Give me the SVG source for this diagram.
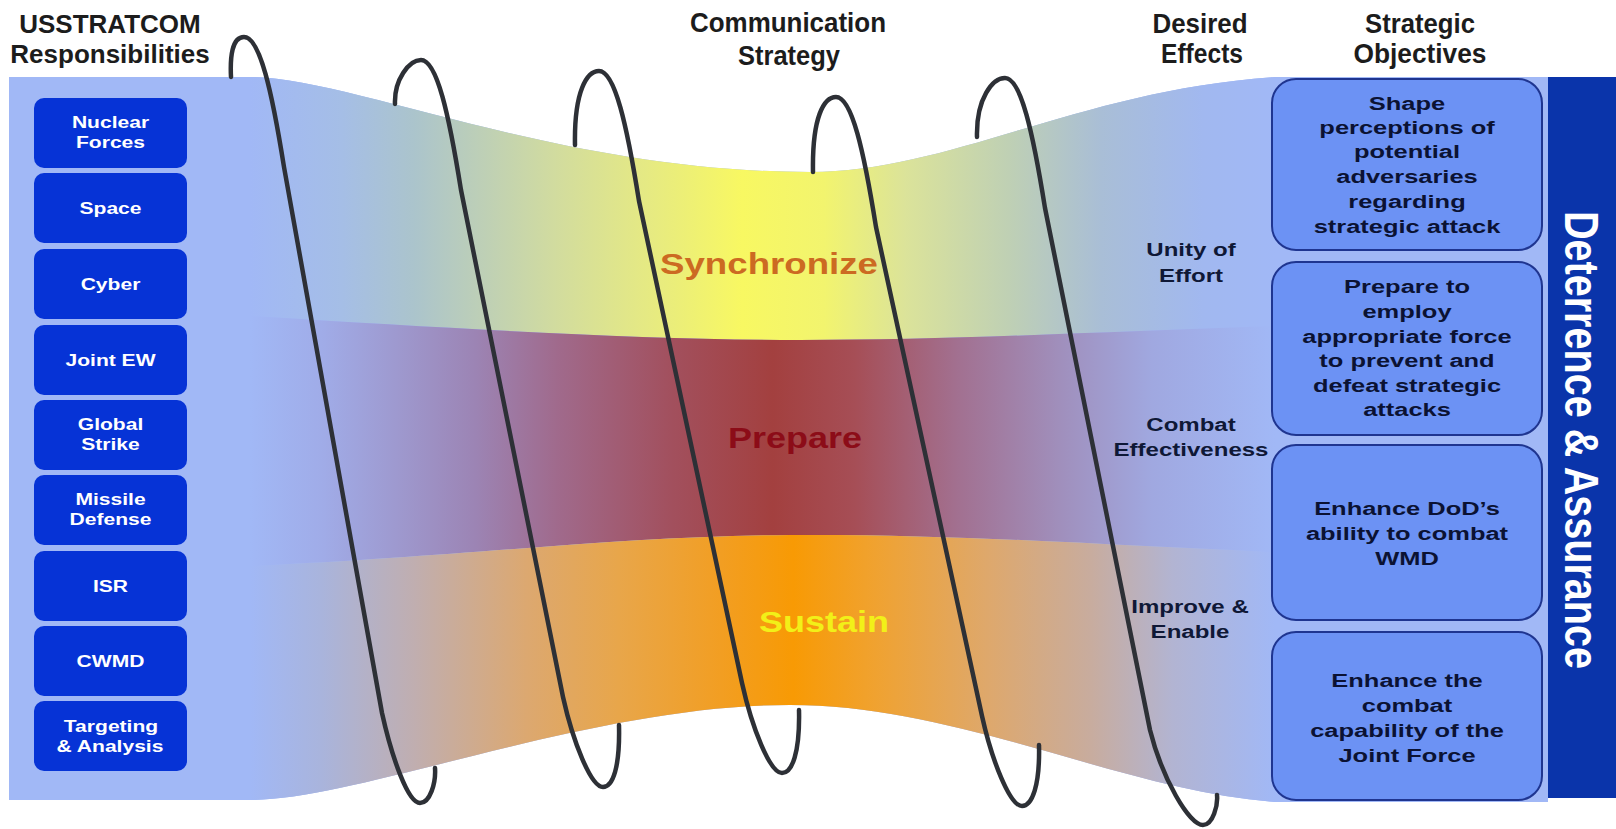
<svg xmlns="http://www.w3.org/2000/svg" width="1616" height="829" viewBox="0 0 1616 829">
<defs>
<style>
.coil{fill:none;stroke:#2d3036;stroke-width:4.5;stroke-linecap:round;stroke-linejoin:round}
.lbox{fill:#0633d6}
.ltxt{font-family:"Liberation Sans",Arial,sans-serif;font-weight:bold;font-size:17px;fill:#ffffff;text-anchor:middle}
.rbox{fill:#6c92f4;stroke:#1f3590;stroke-width:2}
.rtxt{font-family:"Liberation Sans",Arial,sans-serif;font-weight:bold;font-size:19px;fill:#0b1233;text-anchor:middle}
.hdr{font-family:"Liberation Sans",Arial,sans-serif;font-weight:bold;font-size:26px;fill:#1c1c1c;text-anchor:middle}
.hdn{font-family:"Liberation Sans",Arial,sans-serif;font-weight:bold;font-size:28px;fill:#1c1c1c;text-anchor:middle}
.eff{font-family:"Liberation Sans",Arial,sans-serif;font-weight:bold;font-size:18.5px;fill:#0f1836;text-anchor:middle}
.band{font-family:"Liberation Sans",Arial,sans-serif;font-weight:bold;font-size:30px;text-anchor:middle}
.bar{font-family:"Liberation Sans",Arial,sans-serif;font-weight:bold;font-size:48px;fill:#ffffff;text-anchor:middle}
</style>
<linearGradient id="gS" gradientUnits="userSpaceOnUse" x1="250" y1="0" x2="1275" y2="0">
<stop offset="0" stop-color="#a1b8f6"/>
<stop offset="0.09" stop-color="#a5bee6"/>
<stop offset="0.16" stop-color="#abc4cc"/>
<stop offset="0.3" stop-color="#d2dc9e"/>
<stop offset="0.39" stop-color="#e6ea82"/>
<stop offset="0.48" stop-color="#f8f862"/>
<stop offset="0.56" stop-color="#f2f46e"/>
<stop offset="0.64" stop-color="#dbe39a"/>
<stop offset="0.74" stop-color="#bfd0b4"/>
<stop offset="0.83" stop-color="#a9bed6"/>
<stop offset="0.93" stop-color="#a1b8f0"/>
<stop offset="1" stop-color="#a1b8f6"/>
</linearGradient>
<linearGradient id="gP" gradientUnits="userSpaceOnUse" x1="250" y1="0" x2="1275" y2="0">
<stop offset="0" stop-color="#a1b8f6"/>
<stop offset="0.07" stop-color="#a0ace8"/>
<stop offset="0.14" stop-color="#9e9ad0"/>
<stop offset="0.22" stop-color="#9c84b4"/>
<stop offset="0.3" stop-color="#a06a8c"/>
<stop offset="0.41" stop-color="#a2505e"/>
<stop offset="0.51" stop-color="#a3403f"/>
<stop offset="0.59" stop-color="#a64e56"/>
<stop offset="0.69" stop-color="#a27090"/>
<stop offset="0.79" stop-color="#a08fbc"/>
<stop offset="0.88" stop-color="#a0a8e0"/>
<stop offset="1" stop-color="#a1b8f6"/>
</linearGradient>
<linearGradient id="gU" gradientUnits="userSpaceOnUse" x1="250" y1="0" x2="1275" y2="0">
<stop offset="0" stop-color="#a1b8f6"/>
<stop offset="0.07" stop-color="#a9b4dc"/>
<stop offset="0.16" stop-color="#c0aeb0"/>
<stop offset="0.27" stop-color="#dca870"/>
<stop offset="0.36" stop-color="#e8a64a"/>
<stop offset="0.46" stop-color="#f29e22"/>
<stop offset="0.53" stop-color="#f89a04"/>
<stop offset="0.61" stop-color="#f0a230"/>
<stop offset="0.72" stop-color="#dea86c"/>
<stop offset="0.82" stop-color="#c8ac9e"/>
<stop offset="0.9" stop-color="#b2b4d2"/>
<stop offset="1" stop-color="#a1b8f6"/>
</linearGradient>
</defs>
<rect x="0" y="0" width="1616" height="829" fill="#ffffff"/>

<g id="funnel">
<path d="M9,77 L250,77 C350,77 560,172 810,172 C950,172 1080,90 1275,77 L1548,77 L1548,802 L1275,802 C1120,790 960,705 790,705 C590,705 360,800 250,800 L9,800 Z" fill="#a1b8f6"/>
<path id="band-sync" d="M250,77 C350,77 560,172 810,172 C950,172 1080,90 1275,77 L1275,326 C1100,332 950,340 800,340 C650,340 480,330 250,316 Z" fill="url(#gS)"/>
<path id="band-prep" d="M250,316 C480,330 650,340 800,340 C950,340 1100,332 1275,326 L1275,552 C1100,545 960,534 790,535 C620,536 470,556 250,566 Z" fill="url(#gP)"/>
<path id="band-sust" d="M250,566 C470,556 620,536 790,535 C960,534 1100,545 1275,552 L1275,802 C1120,790 960,705 790,705 C590,705 360,800 250,800 Z" fill="url(#gU)"/>
</g>

<g id="coils">
<path class="coil" d="M231,77 C230,57 232,37 244,37 C260,37 272,92 284,167 L382,713 C392,758 408,803 420,803 C430,803 436,783 435,768"/>
<path class="coil" d="M395,104 C394,80 409,60 421,60 C437,60 449,115 461,190 L563,697 C573,742 591,787 603,787 C613,787 620,767 619,725"/>
<path class="coil" d="M575,145 C574,91 587,71 599,71 C615,71 627,126 639,201 L742,683 C752,728 770,773 782,773 C792,773 800,753 799,710"/>
<path class="coil" d="M813,172 C812,117 824,97 836,97 C852,97 864,152 876,227 L982,716 C992,761 1010,806 1022,806 C1032,806 1040,786 1039,745"/>
<path class="coil" d="M977,137 C976,98 993,78 1005,78 C1021,78 1033,133 1045,208 L1150,730 C1162,778 1189,825 1203,825 C1213,825 1218,805 1217,795"/>
</g>

<g id="headers">
<text class="hdr" x="110" y="33">USSTRATCOM</text>
<text class="hdr" x="110" y="63">Responsibilities</text>
<text class="hdn" x="788" y="32" textLength="196" lengthAdjust="spacingAndGlyphs">Communication</text>
<text class="hdn" x="789" y="65" textLength="102" lengthAdjust="spacingAndGlyphs">Strategy</text>
<text class="hdn" x="1200" y="33" textLength="95" lengthAdjust="spacingAndGlyphs">Desired</text>
<text class="hdn" x="1202" y="63" textLength="82" lengthAdjust="spacingAndGlyphs">Effects</text>
<text class="hdn" x="1420" y="33" textLength="110" lengthAdjust="spacingAndGlyphs">Strategic</text>
<text class="hdn" x="1420" y="63" textLength="133" lengthAdjust="spacingAndGlyphs">Objectives</text>
</g>

<g id="band-labels">
<text class="band" x="769" y="274" fill="#cc6a22" textLength="218" lengthAdjust="spacingAndGlyphs">Synchronize</text>
<text class="band" x="795" y="448" fill="#8c0c18" textLength="134" lengthAdjust="spacingAndGlyphs">Prepare</text>
<text class="band" x="824" y="632" fill="#f2f018" textLength="130" lengthAdjust="spacingAndGlyphs">Sustain</text>
</g>

<g id="resp-nuclear"><rect class="lbox" x="34" y="98" width="153" height="70" rx="10"/>
<text class="ltxt" transform="matrix(1.24 0 0 1 110.5 128)">Nuclear</text>
<text class="ltxt" transform="matrix(1.24 0 0 1 110.5 148)">Forces</text></g>
<g id="resp-space"><rect class="lbox" x="34" y="173" width="153" height="70" rx="10"/>
<text class="ltxt" transform="matrix(1.24 0 0 1 110.5 214)">Space</text></g>
<g id="resp-cyber"><rect class="lbox" x="34" y="249" width="153" height="70" rx="10"/>
<text class="ltxt" transform="matrix(1.24 0 0 1 110.5 290)">Cyber</text></g>
<g id="resp-jointew"><rect class="lbox" x="34" y="325" width="153" height="70" rx="10"/>
<text class="ltxt" transform="matrix(1.24 0 0 1 110.5 366)">Joint EW</text></g>
<g id="resp-globalstrike"><rect class="lbox" x="34" y="400" width="153" height="70" rx="10"/>
<text class="ltxt" transform="matrix(1.24 0 0 1 110.5 430)">Global</text>
<text class="ltxt" transform="matrix(1.24 0 0 1 110.5 450)">Strike</text></g>
<g id="resp-missiledefense"><rect class="lbox" x="34" y="475" width="153" height="70" rx="10"/>
<text class="ltxt" transform="matrix(1.24 0 0 1 110.5 505)">Missile</text>
<text class="ltxt" transform="matrix(1.24 0 0 1 110.5 525)">Defense</text></g>
<g id="resp-isr"><rect class="lbox" x="34" y="551" width="153" height="70" rx="10"/>
<text class="ltxt" transform="matrix(1.24 0 0 1 110.5 592)">ISR</text></g>
<g id="resp-cwmd"><rect class="lbox" x="34" y="626" width="153" height="70" rx="10"/>
<text class="ltxt" transform="matrix(1.24 0 0 1 110.5 667)">CWMD</text></g>
<g id="resp-targeting"><rect class="lbox" x="34" y="701" width="153" height="70" rx="10"/>
<text class="ltxt" transform="matrix(1.24 0 0 1 111 732)">Targeting</text>
<text class="ltxt" transform="matrix(1.24 0 0 1 110 752)">&amp; Analysis</text></g>

<g id="effect-unity">
<text class="eff" transform="matrix(1.3 0 0 1 1191 256)">Unity of</text>
<text class="eff" transform="matrix(1.3 0 0 1 1191 282)">Effort</text></g>
<g id="effect-combat">
<text class="eff" transform="matrix(1.3 0 0 1 1191 431)">Combat</text>
<text class="eff" transform="matrix(1.3 0 0 1 1191 456)">Effectiveness</text></g>
<g id="effect-improve">
<text class="eff" transform="matrix(1.3 0 0 1 1190 613)">Improve &amp;</text>
<text class="eff" transform="matrix(1.3 0 0 1 1190 638)">Enable</text></g>

<g id="obj-shape"><rect class="rbox" x="1272" y="79" width="270" height="171" rx="24"/>
<text class="rtxt" transform="matrix(1.34 0 0 1 1407 110)">Shape</text>
<text class="rtxt" transform="matrix(1.34 0 0 1 1407 134)">perceptions of</text>
<text class="rtxt" transform="matrix(1.34 0 0 1 1407 158)">potential</text>
<text class="rtxt" transform="matrix(1.34 0 0 1 1407 183)">adversaries</text>
<text class="rtxt" transform="matrix(1.34 0 0 1 1407 208)">regarding</text>
<text class="rtxt" transform="matrix(1.34 0 0 1 1407 233)">strategic attack</text></g>
<g id="obj-prepare"><rect class="rbox" x="1272" y="262" width="270" height="173" rx="24"/>
<text class="rtxt" transform="matrix(1.34 0 0 1 1407 293)">Prepare to</text>
<text class="rtxt" transform="matrix(1.34 0 0 1 1407 318)">employ</text>
<text class="rtxt" transform="matrix(1.34 0 0 1 1407 343)">appropriate force</text>
<text class="rtxt" transform="matrix(1.34 0 0 1 1407 367)">to prevent and</text>
<text class="rtxt" transform="matrix(1.34 0 0 1 1407 392)">defeat strategic</text>
<text class="rtxt" transform="matrix(1.34 0 0 1 1407 416)">attacks</text></g>
<g id="obj-wmd"><rect class="rbox" x="1272" y="445" width="270" height="175" rx="24"/>
<text class="rtxt" transform="matrix(1.34 0 0 1 1407 515)">Enhance DoD’s</text>
<text class="rtxt" transform="matrix(1.34 0 0 1 1407 540)">ability to combat</text>
<text class="rtxt" transform="matrix(1.34 0 0 1 1407 565)">WMD</text></g>
<g id="obj-jointforce"><rect class="rbox" x="1272" y="632" width="270" height="168" rx="24"/>
<text class="rtxt" transform="matrix(1.34 0 0 1 1407 687)">Enhance the</text>
<text class="rtxt" transform="matrix(1.34 0 0 1 1407 712)">combat</text>
<text class="rtxt" transform="matrix(1.34 0 0 1 1407 737)">capability of the</text>
<text class="rtxt" transform="matrix(1.34 0 0 1 1407 762)">Joint Force</text></g>

<g id="deterrence-bar">
<rect x="1548" y="77" width="68" height="721" fill="#0a34aa"/>
<text class="bar" transform="translate(1565 440) rotate(90)" x="0" y="0" textLength="458" lengthAdjust="spacingAndGlyphs">Deterrence &amp; Assurance</text>
</g>
</svg>
